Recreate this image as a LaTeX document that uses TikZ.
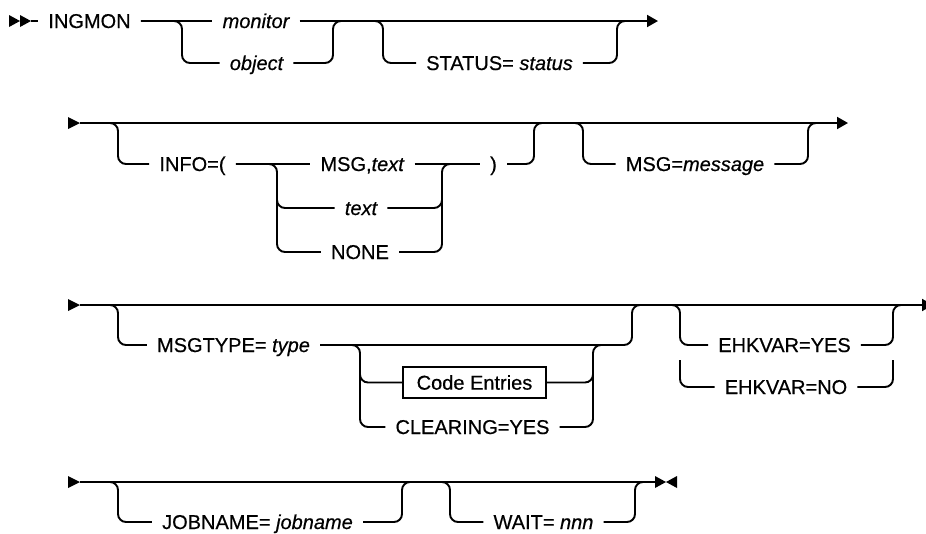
\documentclass[tikz,border=0pt]{standalone}
\usepackage{fontspec}
\setmainfont{Liberation Sans}[FakeBold=0.5]
\usetikzlibrary{arrows.meta}

\begin{document}
\begin{tikzpicture}[x=1pt,y=-1pt,
  rail/.style={line width=1.9pt, rounded corners=8pt, line cap=butt},
  flow/.style={line width=1.9pt, -{Triangle[length=11pt,width=12pt]}},
  lbl/.style={inner xsep=10pt, inner ysep=0pt, text height=14pt, text depth=0pt,
              anchor=center, font=\fontsize{20pt}{24pt}\selectfont},
  boxed/.style={draw, line width=1.7pt, minimum width=143pt, minimum height=31pt,
                inner sep=0pt, fill=white, font=\fontsize{20pt}{24pt}\selectfont},
  tip/.style={fill=black, draw=none}]
\useasboundingbox (0,0) rectangle (926,533);

% ---------- row 1 ----------
\coordinate (s1) at (31,21);
\coordinate (e1) at (658,21);
\fill[tip] (9,15) -- (20,21) -- (9,27) -- cycle;
\fill[tip] (20,15) -- (31,21) -- (20,27) -- cycle;
\node[lbl] (ingmon) at (89.5,21) {INGMON};
\node[lbl] (monitor) at (256,21) {\itshape monitor};
\node[lbl] (object) at (256.5,63) {\itshape object};
\node[lbl] (status) at (499.5,63) {STATUS= \textit{status}};
\draw[rail] (s1) -- (ingmon.west);
\draw[rail] (ingmon.east) -- (monitor.west);
\draw[flow] (monitor.east) -- (e1);
\draw[rail] (ingmon.east) -- (182,21) |- (object.west);
\draw[rail] (object.east) -| (333,21) -- (345,21);
\draw[rail] (371,21) -- (383,21) |- (status.west);
\draw[rail] (status.east) -| (617,21) -- (629,21);

% ---------- row 2 ----------
\coordinate (s2) at (80,123);
\coordinate (e2) at (848,123);
\fill[tip] (68,117) -- (80,123) -- (68,129) -- cycle;
\draw[flow] (s2) -- (e2);
\node[lbl] (info) at (192.5,164) {INFO=(};
\node[lbl] (msgtext) at (362.5,164) {MSG,\textit{text}};
\node[lbl] (textonly) at (361,208) {\itshape text};
\node[lbl] (none) at (360,252) {NONE};
\node[lbl] (paren) at (493.5,164) {)};
\node[lbl] (msgm) at (695,164) {MSG=\textit{message}};
\draw[rail] (106,123) -- (118,123) |- (info.west);
\draw[rail] (info.east) -- (msgtext.west);
\draw[rail] (info.east) -- (277,164) |- (textonly.west);
\draw[rail] (277,200) |- (none.west);
\draw[rail] (msgtext.east) -- (paren.west);
\draw[rail] (textonly.east) -| (442,164) -- (454,164);
\draw[rail] (none.east) -| (442,200);
\draw[rail] (paren.east) -| (534,123) -- (546,123);
\draw[rail] (571,123) -- (583,123) |- (msgm.west);
\draw[rail] (msgm.east) -| (808,123) -- (820,123);

% ---------- row 3 ----------
\coordinate (s3) at (80,305);
\coordinate (e3) at (933,305);
\fill[tip] (68,299) -- (80,305) -- (68,311) -- cycle;
\draw[flow] (s3) -- (e3);
\node[lbl] (msgtype) at (233.5,345) {MSGTYPE= \textit{type}};
\node[boxed] (code) at (474.5,382.5) {Code Entries};
\node[lbl] (clearing) at (472.5,427) {CLEARING=YES};
\node[lbl] (ehkyes) at (784.5,345) {EHKVAR=YES};
\node[lbl] (ehkno) at (786,387) {EHKVAR=NO};
\draw[rail] (106,305) -- (118,305) |- (msgtype.west);
\draw[rail] (msgtype.east) -| (632,305) -- (644,305);
\draw[rail] (msgtype.east) -- (360,345) |- (code.west);
\draw[rail] (360,370) |- (clearing.west);
\draw[rail] (clearing.east) -| (593,345) -- (605,345);
\draw[rail] (code.east) -| (593,370);
\draw[rail] (668,305) -- (680,305) |- (ehkyes.west);
\draw[rail] (680,360) |- (ehkno.west);
\draw[rail] (ehkyes.east) -| (893,305) -- (905,305);
\draw[rail] (ehkno.east) -| (893,360);

% ---------- row 4 ----------
\coordinate (s4) at (80,482);
\coordinate (e4) at (655,482);
\fill[tip] (68,476) -- (80,482) -- (68,488) -- cycle;
\draw[rail] (s4) -- (e4);
\fill[tip] (655,476) -- (666,482) -- (655,488) -- cycle;
\fill[tip] (677,476) -- (666,482) -- (677,488) -- cycle;
\node[lbl] (jobname) at (257.5,522) {JOBNAME= \textit{jobname}};
\node[lbl] (wait) at (543.5,522) {WAIT= \textit{nnn}};
\draw[rail] (106,482) -- (118,482) |- (jobname.west);
\draw[rail] (jobname.east) -| (402,482) -- (414,482);
\draw[rail] (438,482) -- (450,482) |- (wait.west);
\draw[rail] (wait.east) -| (635,482) -- (647,482);
\end{tikzpicture}
\end{document}
